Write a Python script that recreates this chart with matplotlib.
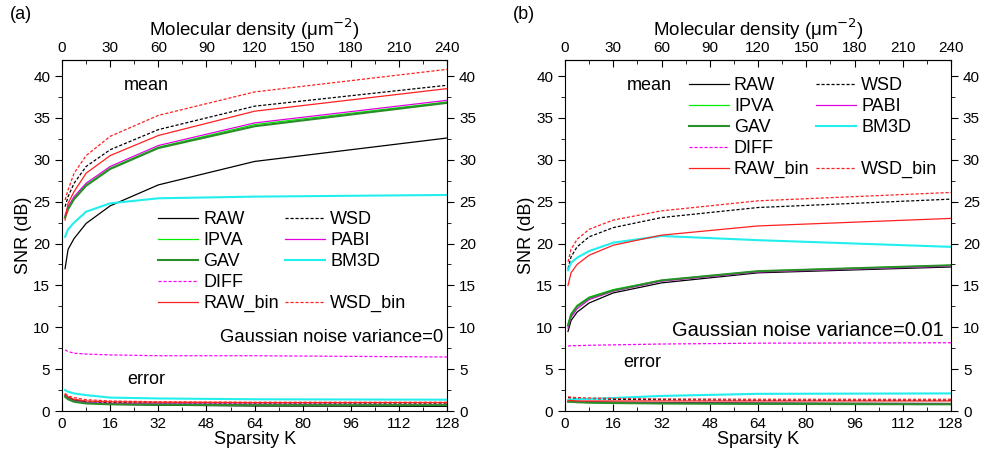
import numpy as np
import matplotlib
matplotlib.use('Agg')
import matplotlib.pyplot as plt
from matplotlib.lines import Line2D
from matplotlib.ticker import MultipleLocator

plt.rcParams['font.family'] = ['Liberation Sans', 'DejaVu Sans']

K = [1, 2, 4, 8, 16, 32, 64, 128]

# panel (a): Gaussian noise variance = 0
a_mean = {
    'RAW':     [17.0, 19.3, 20.6, 22.4, 24.5, 27.0, 29.8, 32.6],
    'WSD':     [24.4, 25.6, 27.2, 29.2, 31.2, 33.6, 36.4, 38.9],
    'IPVA':    [23.2, 24.2, 25.4, 27.0, 29.0, 31.5, 34.2, 36.9],
    'PABI':    [23.4, 24.4, 25.6, 27.2, 29.2, 31.7, 34.4, 37.1],
    'GAV':     [23.1, 24.1, 25.3, 26.9, 28.9, 31.4, 34.0, 36.8],
    'BM3D':    [20.8, 21.7, 22.5, 23.8, 24.8, 25.4, 25.6, 25.8],
    'DIFF':    [7.3, 7.1, 6.9, 6.8, 6.7, 6.6, 6.6, 6.45],
    'RAW_bin': [22.8, 24.8, 26.2, 28.4, 30.5, 32.9, 35.8, 38.5],
    'WSD_bin': [25.2, 26.4, 28.4, 30.5, 32.8, 35.3, 38.1, 40.8],
}
a_err = {
    'RAW':     [1.9, 1.6, 1.3, 1.0, 0.8, 0.7, 0.6, 0.55],
    'WSD':     [1.9, 1.6, 1.3, 1.1, 1.0, 0.95, 0.95, 0.95],
    'IPVA':    [1.8, 1.5, 1.2, 0.95, 0.85, 0.8, 0.75, 0.7],
    'PABI':    [1.8, 1.5, 1.2, 1.0, 0.9, 0.85, 0.8, 0.75],
    'GAV':     [1.7, 1.4, 1.1, 0.9, 0.8, 0.75, 0.7, 0.7],
    'BM3D':    [2.5, 2.3, 2.1, 1.9, 1.6, 1.5, 1.4, 1.35],
    'RAW_bin': [2.0, 1.7, 1.4, 1.2, 1.1, 1.05, 1.0, 1.0],
    'WSD_bin': [2.1, 1.8, 1.6, 1.35, 1.2, 1.1, 1.05, 1.05],
}

# panel (b): Gaussian noise variance = 0.01
b_mean = {
    'RAW':     [9.5, 10.8, 11.8, 12.9, 14.1, 15.3, 16.5, 17.2],
    'WSD':     [17.0, 18.4, 19.6, 20.8, 21.9, 23.1, 24.3, 25.3],
    'IPVA':    [10.3, 11.6, 12.6, 13.6, 14.5, 15.6, 16.7, 17.4],
    'PABI':    [9.9, 11.2, 12.2, 13.3, 14.3, 15.5, 16.6, 17.3],
    'GAV':     [10.2, 11.5, 12.5, 13.5, 14.4, 15.6, 16.7, 17.4],
    'BM3D':    [16.8, 17.7, 18.3, 19.1, 20.1, 20.9, 20.4, 19.6],
    'DIFF':    [7.75, 7.8, 7.8, 7.85, 7.9, 8.0, 8.1, 8.15],
    'RAW_bin': [15.0, 16.5, 17.5, 18.6, 19.8, 21.0, 22.1, 23.0],
    'WSD_bin': [17.8, 19.3, 20.5, 21.7, 22.8, 23.9, 25.1, 26.1],
}
b_err = {
    'RAW':     [1.2, 1.2, 1.15, 1.1, 1.05, 1.0, 0.95, 0.9],
    'WSD':     [1.6, 1.55, 1.5, 1.45, 1.4, 1.35, 1.3, 1.3],
    'IPVA':    [1.1, 1.1, 1.05, 1.0, 0.95, 0.9, 0.85, 0.8],
    'PABI':    [1.15, 1.15, 1.1, 1.05, 1.0, 0.95, 0.9, 0.85],
    'GAV':     [1.1, 1.1, 1.05, 1.0, 0.95, 0.9, 0.85, 0.8],
    'BM3D':    [1.3, 1.35, 1.4, 1.45, 1.55, 1.8, 2.05, 2.1],
    'RAW_bin': [1.25, 1.25, 1.2, 1.2, 1.2, 1.2, 1.2, 1.2],
    'WSD_bin': [1.7, 1.65, 1.6, 1.55, 1.5, 1.45, 1.4, 1.4],
}

density_ticks = np.arange(0, 241, 30)
density_minor = np.arange(0, 241, 15)

styles = {
    'RAW':     dict(color='black', ls='-', lw=0.9),
    'WSD':     dict(color='black', ls=(0, (2.5, 1.5)), lw=0.9),
    'IPVA':    dict(color='#00ee00', ls='-', lw=0.9),
    'PABI':    dict(color='#e000e0', ls='-', lw=0.9),
    'GAV':     dict(color='#2a8f2a', ls='-', lw=1.5),
    'BM3D':    dict(color='#22eeee', ls='-', lw=1.5),
    'DIFF':    dict(color='#ff00ff', ls=(0, (2.5, 1.5)), lw=0.9),
    'RAW_bin': dict(color='#ff2020', ls='-', lw=0.9),
    'WSD_bin': dict(color='#ff2020', ls=(0, (2.5, 1.5)), lw=0.9),
}
order = ['RAW', 'IPVA', 'GAV', 'DIFF', 'RAW_bin', 'WSD', 'PABI', 'BM3D', None, 'WSD_bin']

fig = plt.figure(figsize=(9.85, 4.66), dpi=100)
ax_a = fig.add_axes([0.063, 0.118, 0.391, 0.753])
ax_b = fig.add_axes([0.5736, 0.118, 0.392, 0.753])


def draw(ax, mean, err, note, note_size, legend_pos, mean_pos, err_pos, note_pos, tag):
    handles = {}
    for name, vals in mean.items():
        h, = ax.plot(K, vals, label=name, **styles[name])
        handles[name] = h
    for name, vals in err.items():
        ax.plot(K, vals, **styles[name])
    ax.set_xlim(0, 128)
    ax.set_ylim(0, 41.9)
    ax.xaxis.set_major_locator(MultipleLocator(16))
    ax.xaxis.set_minor_locator(MultipleLocator(8))
    ax.yaxis.set_major_locator(MultipleLocator(5))
    ax.yaxis.set_minor_locator(MultipleLocator(2.5))
    ax.tick_params(axis='x', which='both', direction='in', top=False, labelsize=11, pad=4)
    ax.tick_params(axis='y', which='both', direction='out', right=True, labelright=True, labelsize=11)
    ax.tick_params(which='major', length=5)
    ax.tick_params(which='minor', length=3)
    ax.set_xlabel('Sparsity K', fontsize=13, labelpad=0)
    ax.set_ylabel('SNR (dB)', fontsize=13, labelpad=1)

    top = ax.secondary_xaxis('top', functions=(lambda k: k * 240 / 128, lambda d: d * 128 / 240))
    top.set_xticks(density_ticks)
    top.set_xticks(density_minor, minor=True)
    top.tick_params(which='both', direction='in', labelsize=11, pad=4)
    top.tick_params(which='major', length=5)
    top.tick_params(which='minor', length=3)
    top.set_xlabel('Molecular density (μm$^{-2}$)', fontsize=13.5, labelpad=3)

    blank = Line2D([], [], color='none')
    hs = [handles[n] if n else blank for n in order]
    ls = [n if n else '' for n in order]
    ax.legend(hs, ls, ncol=2, loc='upper left', bbox_to_anchor=legend_pos, frameon=False,
              fontsize=13, handlelength=2.2, handletextpad=0.3, columnspacing=0.35,
              labelspacing=0.22, borderpad=0.2)
    ax.text(*mean_pos, 'mean', transform=ax.transAxes, fontsize=13)
    ax.text(*err_pos, 'error', transform=ax.transAxes, fontsize=13)
    ax.text(*note_pos, note, transform=ax.transAxes, fontsize=note_size, ha='right', va='center')
    ax.text(-0.135, 1.13, tag, transform=ax.transAxes, fontsize=13, va='center')


draw(ax_a, a_mean, a_err, 'Gaussian noise variance=0', 13.3,
     (0.216, 0.605), (0.16, 0.915), (0.17, 0.078), (0.99, 0.21), '(a)')
draw(ax_b, b_mean, b_err, 'Gaussian noise variance=0.01', 14.5,
     (0.288, 0.987), (0.16, 0.915), (0.15, 0.125), (0.98, 0.23), '(b)')

fig.savefig('out.png', dpi=100)
